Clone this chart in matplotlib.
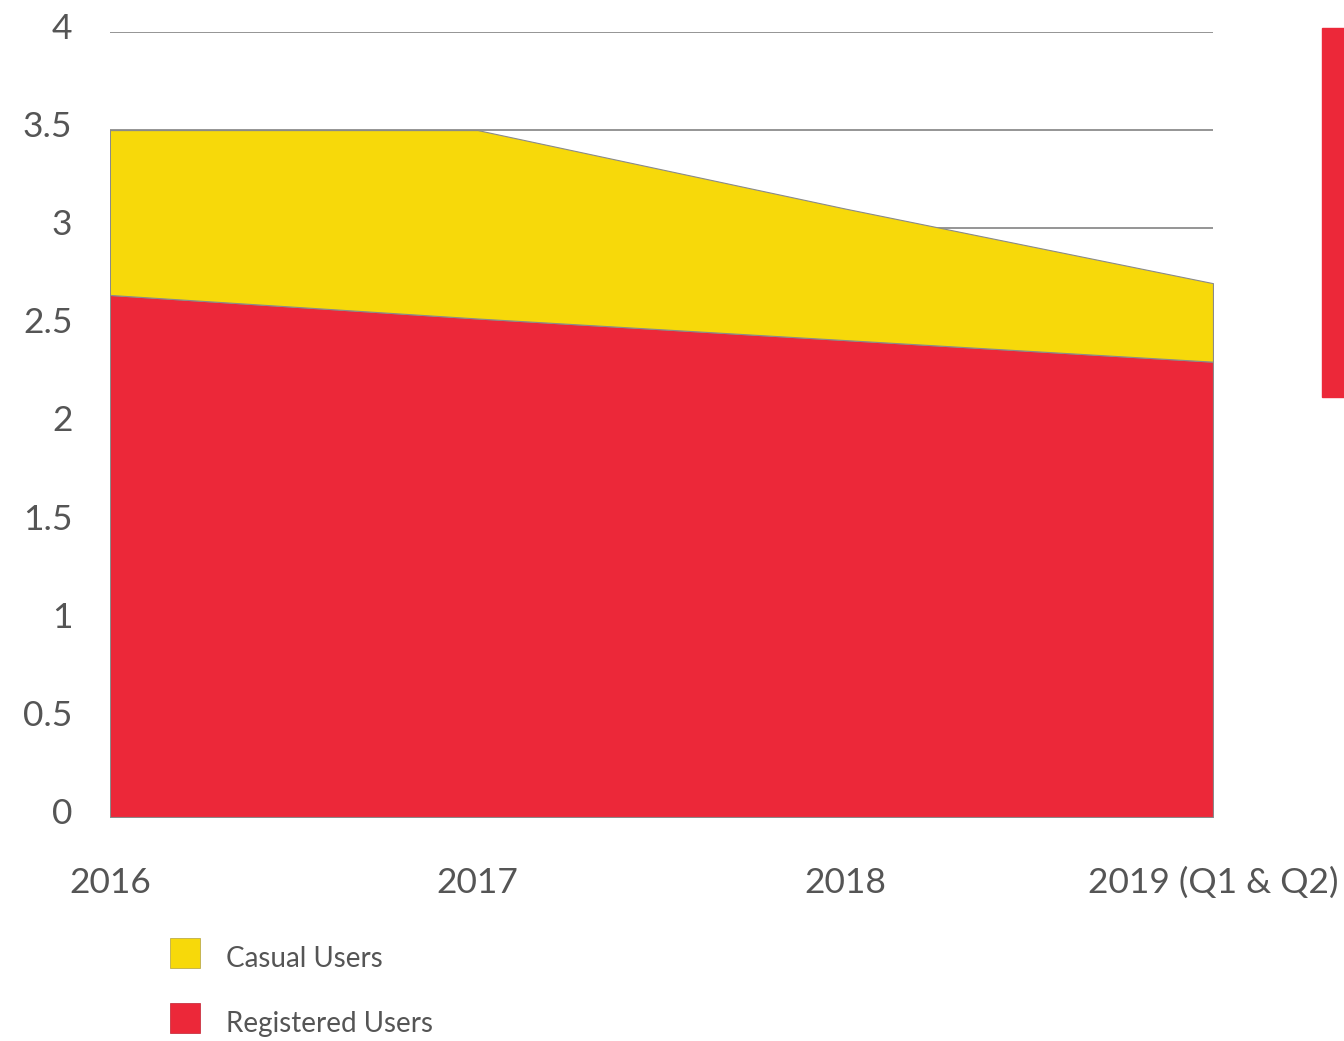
import matplotlib.pyplot as plt
import matplotlib.transforms as mtransforms
from matplotlib.patches import Rectangle

# Data (millions of users)
years = ['2016', '2017', '2018', '2019 (Q1 & Q2)']
registered = [2.66, 2.54, 2.43, 2.32]
casual = [0.84, 0.96, 0.67, 0.40]
yticks = [0, 0.5, 1, 1.5, 2, 2.5, 3, 3.5, 4]

yellow = '#F7D90A'
red = '#EC2839'
txt = '#555555'

plt.rcParams['font.family'] = ['Lato', 'DejaVu Sans']

fig = plt.figure(figsize=(13.44, 10.41), dpi=100)
ax = fig.add_axes([0.0818, 0.2152, 0.8207, 0.7541])

x = list(range(len(years)))
ax.stackplot(x, registered, casual, colors=[red, yellow],
             edgecolor='#8a8a8a', linewidth=0.8, zorder=2)

ax.set_xlim(0, len(years) - 1)
ax.set_ylim(0, 4)
ax.set_yticks(yticks)
ax.set_yticklabels(['0', '0.5', '1', '1.5', '2', '2.5', '3', '3.5', '4'])
ax.set_xticks(x)
ax.set_xticklabels(years)
ax.yaxis.grid(True, color='#8c8c8c', linewidth=1.3, zorder=0)
ax.set_axisbelow(True)
for s in ax.spines.values():
    s.set_visible(False)
ax.tick_params(axis='both', length=0, labelsize=25.5, labelcolor=txt)
ax.tick_params(axis='y', pad=27)
ax.tick_params(axis='x', pad=36)

# y labels sit a little above their grid lines in the original
shift = mtransforms.ScaledTranslation(0, 6 / 100, fig.dpi_scale_trans)
for lab in ax.get_yticklabels():
    lab.set_transform(lab.get_transform() + shift)

# Red bar cut at right edge
fig.patches.append(Rectangle((0.9836, 0.6186), 0.0164, 0.3545,
                             transform=fig.transFigure, color=red))

# Legend
for i, (lab, col) in enumerate([('Casual Users', yellow), ('Registered Users', red)]):
    yc = 1 - (953 + i * 65) / 1041
    fig.patches.append(Rectangle((170 / 1344, yc - 15 / 1041), 30 / 1344, 30 / 1041,
                                 transform=fig.transFigure, facecolor=col,
                                 edgecolor='#b0a040' if i == 0 else '#c02030', linewidth=0.5))
    fig.text(226 / 1344, yc - 6 / 1041, lab, fontsize=20, color=txt, va='center', ha='left')

fig.savefig('out.png', dpi=100)
